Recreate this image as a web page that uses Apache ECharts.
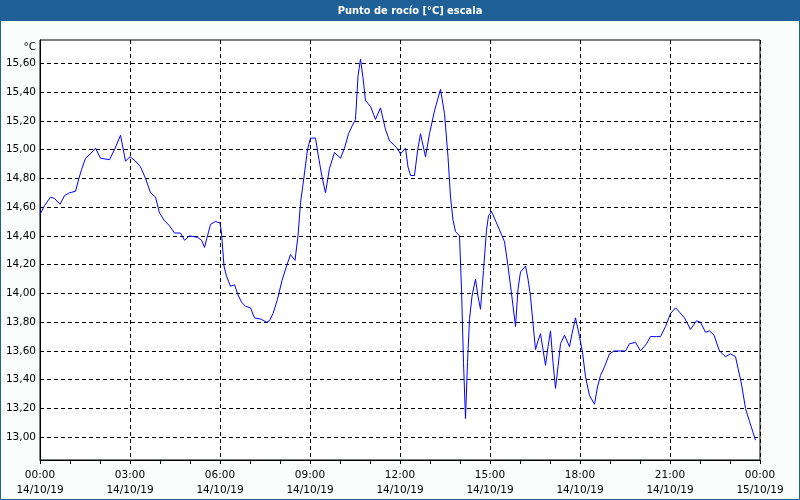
<!DOCTYPE html>
<html>
<head>
<meta charset="utf-8">
<script src="https://cdn.jsdelivr.net/npm/echarts@6/dist/echarts.min.js"></script>
<style>
html,body{margin:0;padding:0;background:#fbfdfd;}
#chart{width:800px;height:500px;}
</style>
</head>
<body>
<div id="chart"></div>
<script>
// minutes since 14/10/19 00:00
const times = [0,9,21,29,40,49,59,71,77,83,91,101,111,121,139,149,161,171,180,191,201,211,221,231,239,248,259,269,281,289,299,315,323,329,341,351,360,
363,368,373,381,389,396,403,411,421,429,443,453,459,466,475,484,493,501,510,516,521,528,535,541,551,556,564,571,579,589,601,609,617,625,631,636,641,646,651,661,671,681,691,699,709,716,721,
731,736,741,749,755,761,771,779,789,801,809,816,821,826,831,839,843,847,851,855,859,864,871,876,881,887,893,897,903,913,923,929,936,943,951,956,961,971,976,981,986,991,996,1001,1006,1011,1016,1021,1026,1031,1036,1041,1049,1059,1064,1071,1079,
1085,1091,1099,1109,1115,1121,1129,1139,1148,1161,1171,1179,1191,1201,1213,1221,1233,1241,1251,1261,1271,1279,1289,1301,1313,1321,1331,1339,1348,1359,1371,1381,1391,1396,1403,1411,1419,1431];
const values = [14.55,14.61,14.67,14.66,14.62,14.68,14.70,14.71,14.79,14.86,14.94,14.97,15.01,14.94,14.93,15.00,15.10,14.92,14.95,14.92,14.88,14.80,14.70,14.67,14.56,14.51,14.47,14.42,14.42,14.37,14.40,14.39,14.37,14.32,14.48,14.50,14.49,
14.42,14.19,14.12,14.05,14.06,13.99,13.94,13.91,13.90,13.83,13.82,13.80,13.81,13.86,13.96,14.09,14.19,14.27,14.23,14.40,14.63,14.81,15.00,15.08,15.08,14.97,14.81,14.70,14.87,14.98,14.94,15.01,15.11,15.17,15.21,15.51,15.63,15.50,15.34,15.30,15.21,15.29,15.14,15.06,15.03,15.00,14.97,
15.01,14.88,14.82,14.82,14.99,15.11,14.95,15.11,15.27,15.42,15.25,14.95,14.67,14.51,14.43,14.40,14.03,13.52,13.13,13.52,13.82,13.98,14.10,13.98,13.89,14.16,14.44,14.54,14.57,14.49,14.41,14.36,14.19,14.00,13.77,14.03,14.15,14.19,14.10,13.98,13.79,13.61,13.67,13.72,13.61,13.50,13.63,13.74,13.52,13.34,13.49,13.65,13.71,13.63,13.72,13.83,13.70,
13.59,13.42,13.29,13.23,13.35,13.43,13.49,13.58,13.60,13.60,13.60,13.65,13.66,13.60,13.65,13.70,13.70,13.70,13.77,13.86,13.90,13.87,13.83,13.75,13.81,13.80,13.73,13.74,13.71,13.60,13.56,13.58,13.56,13.48,13.37,13.20,13.11,12.98];
const yTicks = [13.0,13.2,13.4,13.6,13.8,14.0,14.2,14.4,14.6,14.8,15.0,15.2,15.4,15.6];
const xTickHours = [0,3,6,9,12,15,18,21,24];
const xDates = ['14/10/19','14/10/19','14/10/19','14/10/19','14/10/19','14/10/19','14/10/19','14/10/19','15/10/19'];
const titleText = 'Punto de rocío [°C] escala';
const unitText = '°C';

const data = times.map((t, i) => [t, values[i]]);
const FONT = 'DejaVu Sans';
const BLUE = '#1f6096';

const chart = echarts.init(document.getElementById('chart'), null, {renderer: 'canvas'});
chart.setOption({
  animation: false,
  backgroundColor: '#fbfdfd',
  graphic: [
    {type: 'rect', z: -1, shape: {x: 0, y: 0, width: 800, height: 21}, style: {fill: BLUE}},
    {type: 'rect', z: -1, shape: {x: 0.5, y: 0.5, width: 799, height: 499}, style: {fill: null, stroke: BLUE, lineWidth: 1}},
    {type: 'text', z: 10, x: 410, y: 11, style: {text: titleText, fill: '#fff', font: 'bold 11px "DejaVu Sans Condensed", "Liberation Sans Narrow", "DejaVu Sans"', textAlign: 'center', textVerticalAlign: 'middle'}}
  ],
  grid: {left: 40, right: 40, top: 40, bottom: 40, show: true, backgroundColor: '#ffffff', borderColor: '#000', borderWidth: 1},
  xAxis: {
    type: 'value', min: 0, max: 1440, interval: 180,
    axisLine: {show: true, lineStyle: {color: '#000', width: 1}},
    axisTick: {show: true, length: 4, lineStyle: {color: '#000'}},
    minorTick: {show: true, splitNumber: 3, length: 4, lineStyle: {color: '#000'}},
    splitLine: {show: true, lineStyle: {color: '#000', type: [4, 3], width: 1}},
    axisLabel: {
      show: true, margin: 8, color: '#000', fontFamily: FONT, fontSize: 10.5, lineHeight: 15,
      showMinLabel: true, showMaxLabel: true, hideOverlap: false,
      formatter: function (v) {
        const h = Math.round(v / 60);
        const idx = xTickHours.indexOf(h);
        const hh = String(h % 24).padStart(2, '0');
        return hh + ':00\n' + (idx >= 0 ? xDates[idx] : '');
      }
    }
  },
  yAxis: {
    type: 'value', min: 12.842, max: 15.762,
    name: unitText, nameLocation: 'end', nameGap: -2,
    nameTextStyle: {color: '#000', fontFamily: FONT, fontSize: 10.5, align: 'right', verticalAlign: 'top', padding: [0, 4, 0, 0]},
    axisLine: {show: true, lineStyle: {color: '#000', width: 1}},
    axisTick: {show: false, customValues: yTicks},
    splitLine: {show: true, lineStyle: {color: '#000', type: [4, 3], width: 1}},
    axisLabel: {
      show: true, customValues: yTicks, margin: 4, color: '#000', fontFamily: FONT, fontSize: 10.5,
      formatter: function (v) { return v.toFixed(2).replace('.', ','); }
    }
  },
  series: [{
    type: 'line', data: data, showSymbol: false, symbol: 'none',
    lineStyle: {color: '#0000ff', width: 1}, itemStyle: {color: '#0000ff'}
  }]
});
</script>
</body>
</html>
